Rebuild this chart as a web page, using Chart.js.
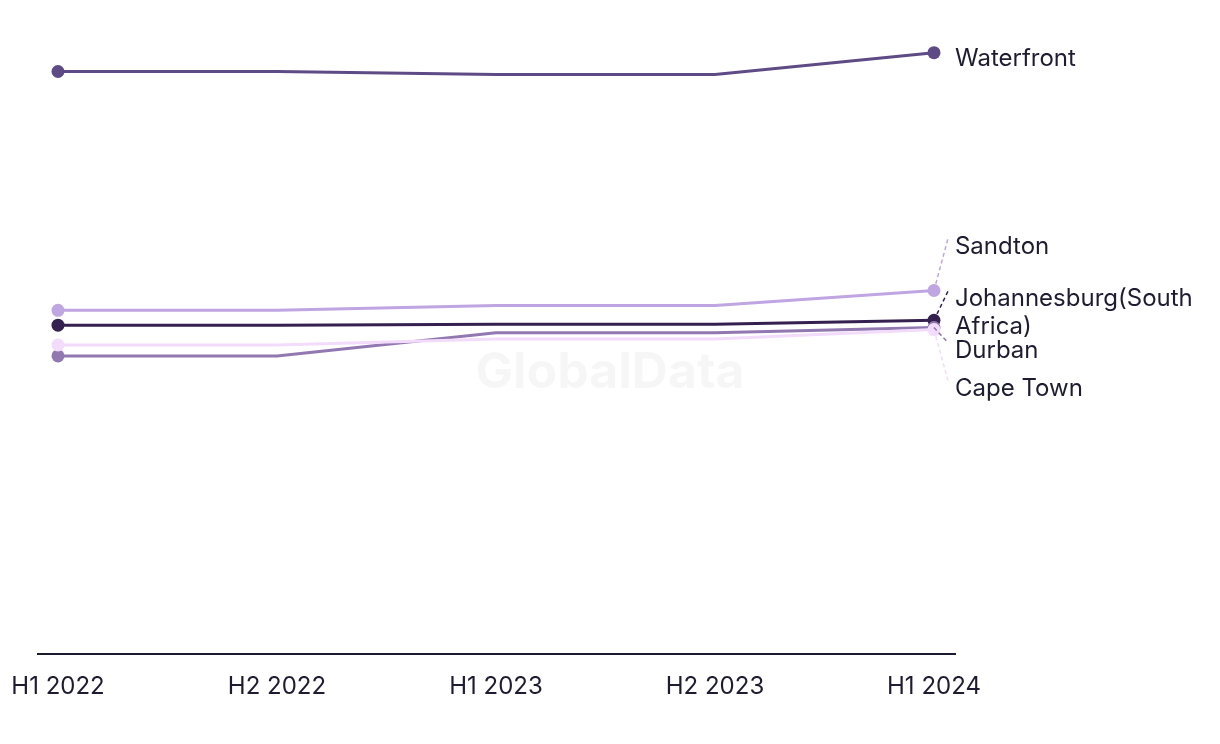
<!DOCTYPE html>
<html>
<head>
<meta charset="utf-8">
<script src="https://cdn.jsdelivr.net/npm/chart.js@4.4.1/dist/chart.umd.min.js"></script>
<style>
  html, body { margin: 0; padding: 0; background: #fff; }
  #wrap { width: 1220px; height: 744px; }
</style>
</head>
<body>
<div id="wrap"><canvas id="myChart"></canvas></div>
<script>
// periods on the x axis
const periods = ["H1 2022", "H2 2022", "H1 2023", "H2 2023", "H1 2024"];

// series values (no y axis shown)
const waterfront = [2940, 2940, 2925, 2925, 3035];
const sandton = [1735, 1735, 1760, 1760, 1835];
const johannesburg = [1660, 1660, 1665, 1665, 1685];
const capeTown = [1560, 1560, 1590, 1590, 1638];
const durban = [1505, 1505, 1622, 1622, 1648];

const seriesNames = ["Waterfront", "Cape Town", "Durban", "Sandton", "Johannesburg(South Africa)"];
const seriesData = [waterfront, capeTown, durban, sandton, johannesburg];
const seriesColors = ["#5e4a85", "#f3dcfb", "#9178b1", "#bfa5e1", "#35214f"];
// label lines and vertical shift of the end label (px)
const labelLines = [["Waterfront"], ["Cape Town"], ["Durban"], ["Sandton"], ["Johannesburg(South", "Africa)"]];
const labelShift = [6, 59, 23, -44, -21];

window.onload = function () {
  const ctx = document.getElementById("myChart").getContext("2d");
  const FONT = "Inter, 'Open Sans', sans-serif";
  const TEXT = "#1e1c30";

  const datasets = seriesNames.map(function (name, i) {
    return {
      label: name,
      data: seriesData[i].map(function (v, j) { return { x: j, y: v }; }),
      borderColor: seriesColors[i],
      backgroundColor: seriesColors[i],
      borderWidth: 3,
      tension: 0,
      pointRadius: function (c) {
        return c.dataIndex === 0 || c.dataIndex === periods.length - 1 ? 6.5 : 0;
      },
      pointHoverRadius: 6.5,
      pointBorderWidth: 0,
    };
  });

  // watermark behind the lines
  const watermark = {
    id: "watermark",
    beforeDatasetsDraw(chart) {
      const c = chart.ctx;
      c.save();
      c.font = "bold 50px " + FONT;
      c.fillStyle = "rgba(0,0,0,0.035)";
      c.textAlign = "center";
      c.textBaseline = "middle";
      c.fillText("GlobalData", chart.width / 2, 373);
      c.restore();
    },
  };

  // end labels with dashed leaders
  const endLabels = {
    id: "endLabels",
    afterDatasetsDraw(chart) {
      const c = chart.ctx;
      c.save();
      chart.data.datasets.forEach(function (ds, i) {
        const meta = chart.getDatasetMeta(i);
        const pt = meta.data[meta.data.length - 1];
        const tx = pt.x + 21;
        const ty = pt.y + labelShift[i];
        if (Math.abs(labelShift[i]) > 10) {
          c.setLineDash([4, 3]);
          c.lineWidth = 1.5;
          c.strokeStyle = ds.borderColor;
          c.beginPath();
          c.moveTo(pt.x, pt.y);
          c.lineTo(tx - 7, ty - 8);
          c.stroke();
          c.setLineDash([]);
        }
        c.font = "24px " + FONT;
        c.fillStyle = TEXT;
        c.textAlign = "left";
        c.textBaseline = "middle";
        labelLines[i].forEach(function (line, k) {
          c.fillText(line, tx, ty + k * 28);
        });
      });
      c.restore();
    },
  };

  const config = {
    type: "line",
    data: { datasets: datasets },
    options: {
      responsive: true,
      maintainAspectRatio: false,
      animation: false,
      layout: { padding: { left: 38, right: 265, top: 20, bottom: 25 } },
      plugins: {
        legend: { display: false },
        tooltip: { enabled: false },
      },
      scales: {
        x: {
          type: "linear",
          min: -0.0913,
          max: 4.096,
          afterFit: function (scale) {
            // labels may overhang the plot edge, like the original
            scale.paddingLeft = 0;
            scale.paddingRight = 0;
          },
          grid: { display: false, drawTicks: false },
          border: { display: true, color: "#1a1a2e", width: 2 },
          ticks: {
            stepSize: 1,
            includeBounds: false,
            autoSkip: false,
            maxRotation: 0,
            padding: 18,
            color: TEXT,
            font: { family: FONT, size: 24 },
            callback: function (v) {
              return Number.isInteger(v) ? periods[v] : "";
            },
          },
        },
        y: {
          display: false,
          min: 0,
          max: 3200,
        },
      },
    },
    plugins: [watermark, endLabels],
  };

  const myChart = new Chart(ctx, config);
};
</script>
</body>
</html>
